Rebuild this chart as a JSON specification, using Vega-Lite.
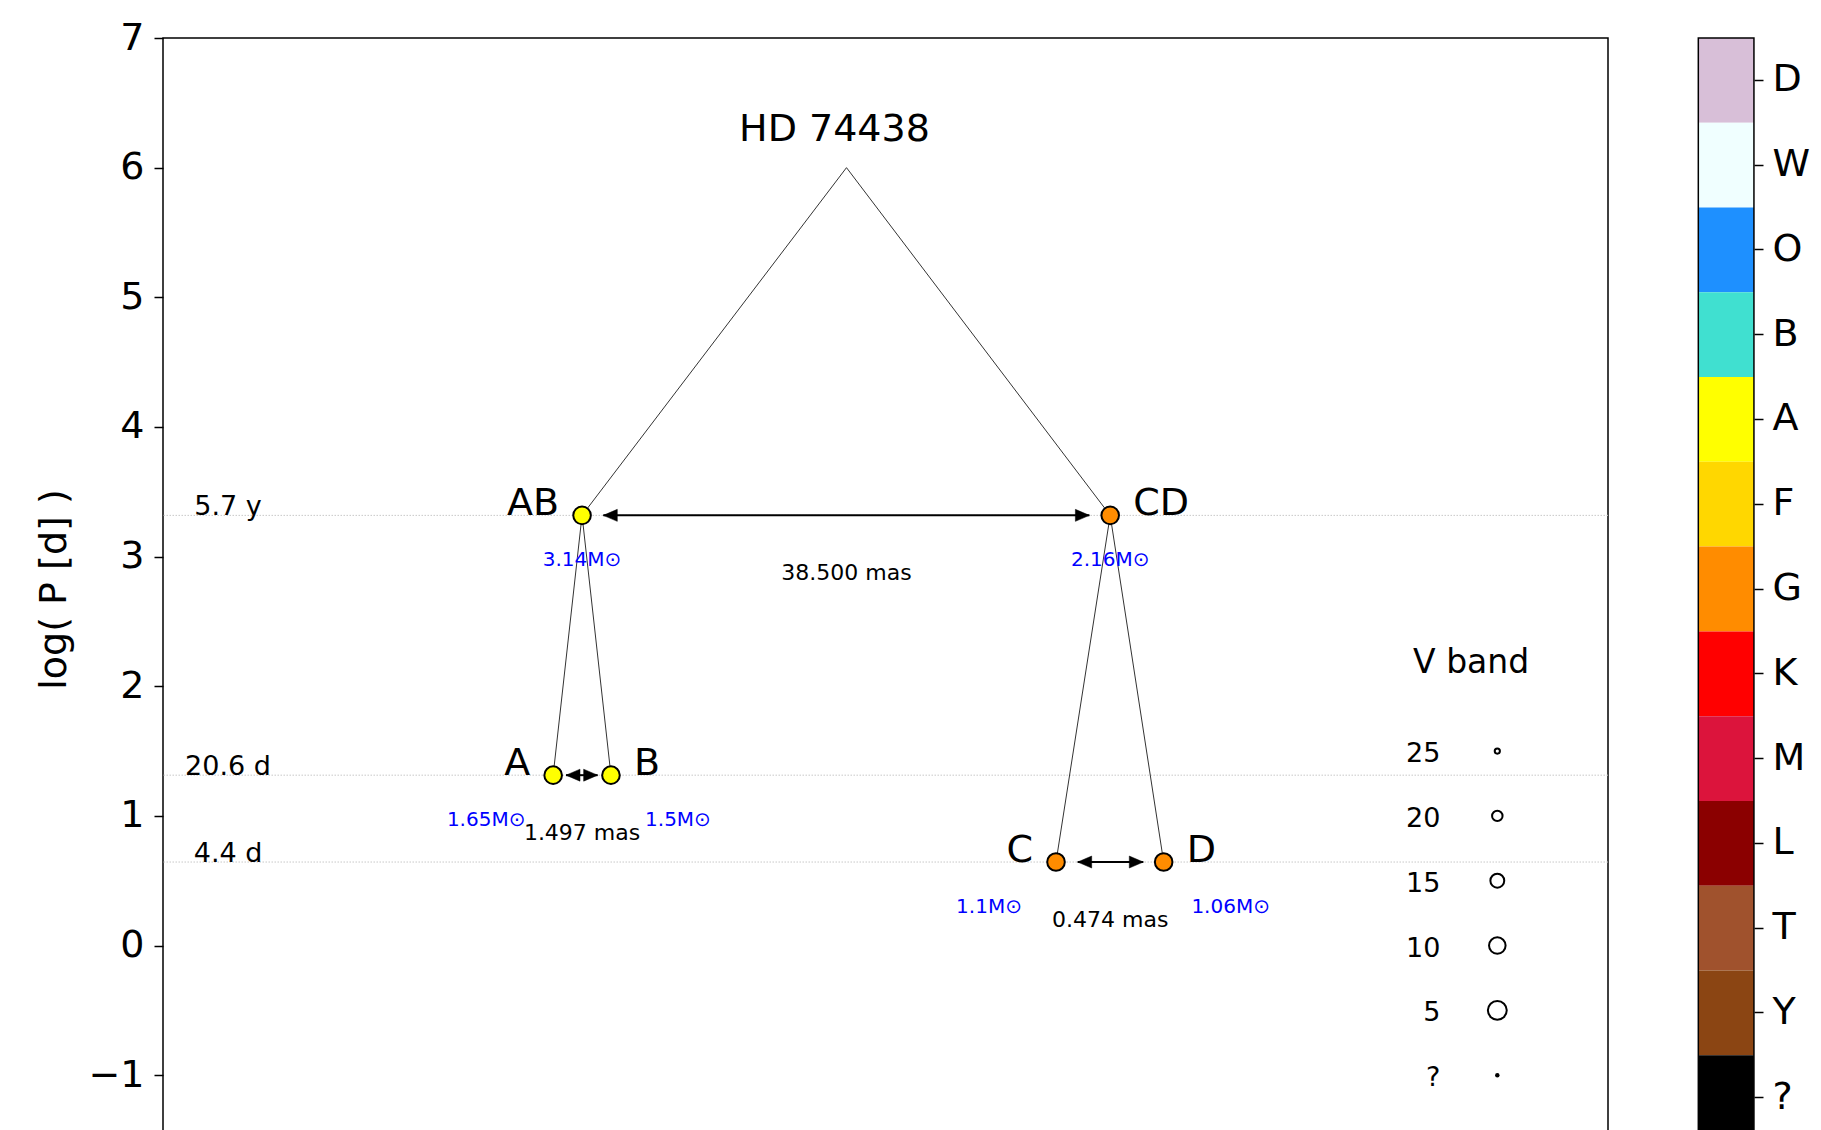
{
  "$schema": "https://vega.github.io/schema/vega-lite/v6.json",
  "autosize": {"type": "none"},
  "padding": {"left": 163, "top": 38, "right": 213, "bottom": -10},
  "width": 1445,
  "height": 1102,
  "background": "white",
  "config": {
    "font": "DejaVu Sans",
    "view": {"stroke": "black", "strokeWidth": 1.5},
    "text": {"font": "DejaVu Sans", "color": "black"}
  },
  "datasets": {
    "nodes": [
      {"id": "HD 74438", "x": 47.3, "logP": 6.0},
      {"id": "AB", "x": 29.0, "logP": 3.318, "parent": "HD 74438", "type": "A", "mass": "3.14M⊙"},
      {"id": "CD", "x": 65.55, "logP": 3.318, "parent": "HD 74438", "type": "G", "mass": "2.16M⊙"},
      {"id": "A", "x": 27.0, "logP": 1.314, "parent": "AB", "type": "A", "mass": "1.65M⊙"},
      {"id": "B", "x": 31.0, "logP": 1.314, "parent": "AB", "type": "A", "mass": "1.5M⊙"},
      {"id": "C", "x": 61.8, "logP": 0.644, "parent": "CD", "type": "G", "mass": "1.1M⊙"},
      {"id": "D", "x": 69.25, "logP": 0.644, "parent": "CD", "type": "G", "mass": "1.06M⊙"}
    ],
    "arrows": [
      {"pair": "AB-CD", "xc": 47.3, "x1": 30.47, "x2": 64.11, "logP": 3.318, "sep": "38.500 mas"},
      {"pair": "A-B", "xc": 29.0, "x1": 27.89, "x2": 30.08, "logP": 1.314, "sep": "1.497 mas"},
      {"pair": "C-D", "xc": 65.55, "x1": 63.3, "x2": 67.84, "logP": 0.644, "sep": "0.474 mas"}
    ],
    "periods": [
      {"label": "5.7 y", "logP": 3.318},
      {"label": "20.6 d", "logP": 1.314},
      {"label": "4.4 d", "logP": 0.644}
    ],
    "vband": [
      {"label": "25", "vmag": 25, "slot": 1.5},
      {"label": "20", "vmag": 20, "slot": 1.0},
      {"label": "15", "vmag": 15, "slot": 0.5},
      {"label": "10", "vmag": 10, "slot": 0.0},
      {"label": "5", "vmag": 5, "slot": -0.5},
      {"label": "?", "slot": -1.0}
    ],
    "spectral": [
      {"type": "D"}, {"type": "W"}, {"type": "O"}, {"type": "B"}, {"type": "A"}, {"type": "F"}, {"type": "G"},
      {"type": "K"}, {"type": "M"}, {"type": "L"}, {"type": "T"}, {"type": "Y"}, {"type": "?"}
    ]
  },
  "layer": [
    {
      "data": {"name": "periods"},
      "mark": {"type": "rule", "stroke": "#c8c8c8", "strokeWidth": 1, "strokeDash": [1.5, 1.5]},
      "encoding": {
        "y": {"field": "logP", "type": "quantitative", "scale": {"domain": [-1.5, 7], "nice": false, "zero": false},
          "axis": {"orient": "left", "title": "log( P [d] )", "values": [-1, 0, 1, 2, 3, 4, 5, 6, 7], "grid": false, "domain": false,
            "ticks": true, "tickSize": 9, "tickWidth": 1.5, "tickColor": "black",
            "labelFontSize": 38, "labelColor": "black", "labelPadding": 10, "labelFlush": false, "labelOverlap": false,
            "labelFont": "DejaVu Sans", "titleFont": "DejaVu Sans",
            "titleFontSize": 38, "titleFontWeight": "normal", "titleColor": "black", "titlePadding": 14}}
      }
    },
    {
      "data": {"name": "spectral"},
      "mark": {"type": "rect"},
      "encoding": {
        "y": {"field": "type", "type": "nominal", "sort": null,
          "scale": {"domain": ["D", "W", "O", "B", "A", "F", "G", "K", "M", "L", "T", "Y", "?"], "paddingInner": 0, "paddingOuter": 0},
          "axis": {"orient": "right", "offset": 146, "title": null, "domain": false, "grid": false,
            "tickSize": 9, "tickWidth": 1.5, "tickColor": "black", "labelFontSize": 38, "labelColor": "black",
            "labelPadding": 9, "labelFlush": false, "labelOverlap": false, "labelFont": "DejaVu Sans"}},
        "x": {"datum": 106.25, "type": "quantitative", "scale": {"domain": [0, 100], "nice": false, "zero": false}, "axis": null},
        "x2": {"datum": 110.1},
        "fill": {"field": "type", "type": "nominal", "legend": null,
          "scale": {"domain": ["D", "W", "O", "B", "A", "F", "G", "K", "M", "L", "T", "Y", "?"],
            "range": ["#d8bfd8", "#f0ffff", "#1e90ff", "#40e0d0", "#ffff00", "#ffd700", "#ff8c00", "#ff0000", "#dc143c", "#8b0000", "#a0522d", "#8b4513", "#000000"]}}
      }
    },
    {
      "data": {"values": [{"frame": "colorbar"}]},
      "mark": {"type": "rect", "fill": null, "fillOpacity": 0, "stroke": "black", "strokeWidth": 1.5},
      "encoding": {
        "x": {"datum": 106.25, "type": "quantitative", "scale": {"domain": [0, 100], "nice": false, "zero": false}, "axis": null},
        "x2": {"datum": 110.1}
      }
    },
    {
      "data": {"name": "nodes"},
      "transform": [
        {"filter": "isValid(datum.parent)"},
        {"lookup": "parent", "from": {"data": {"name": "nodes"}, "key": "id", "fields": ["x", "logP"]}, "as": ["px", "plogP"]}
      ],
      "mark": {"type": "rule", "stroke": "#333333", "strokeWidth": 1},
      "encoding": {
        "x": {"field": "x", "type": "quantitative", "scale": {"domain": [0, 100], "nice": false, "zero": false}, "axis": null},
        "y": {"field": "logP", "type": "quantitative", "scale": {"domain": [-1.5, 7], "nice": false, "zero": false}, "axis": null},
        "x2": {"field": "px"},
        "y2": {"field": "plogP"}
      }
    },
    {
      "data": {"name": "arrows"},
      "mark": {"type": "rule", "stroke": "black", "strokeWidth": 2},
      "encoding": {
        "x": {"field": "x1", "type": "quantitative", "scale": {"domain": [0, 100], "nice": false, "zero": false}, "axis": null},
        "x2": {"field": "x2"},
        "y": {"field": "logP", "type": "quantitative", "scale": {"domain": [-1.5, 7], "nice": false, "zero": false}, "axis": null}
      }
    },
    {
      "data": {"name": "arrows"},
      "mark": {"type": "point", "shape": "M0,0L-2,-0.857L-2,0.857Z", "filled": true, "fill": "black", "stroke": "black", "strokeWidth": 0.5, "size": 196, "opacity": 1},
      "encoding": {
        "x": {"field": "x2", "type": "quantitative", "scale": {"domain": [0, 100], "nice": false, "zero": false}, "axis": null},
        "y": {"field": "logP", "type": "quantitative", "scale": {"domain": [-1.5, 7], "nice": false, "zero": false}, "axis": null}
      }
    },
    {
      "data": {"name": "arrows"},
      "mark": {"type": "point", "shape": "M0,0L2,-0.857L2,0.857Z", "filled": true, "fill": "black", "stroke": "black", "strokeWidth": 0.5, "size": 196, "opacity": 1},
      "encoding": {
        "x": {"field": "x1", "type": "quantitative", "scale": {"domain": [0, 100], "nice": false, "zero": false}, "axis": null},
        "y": {"field": "logP", "type": "quantitative", "scale": {"domain": [-1.5, 7], "nice": false, "zero": false}, "axis": null}
      }
    },
    {
      "data": {"name": "nodes"},
      "transform": [{"filter": "isValid(datum.type)"}],
      "mark": {"type": "point", "shape": "circle", "filled": true, "size": 310, "stroke": "black", "strokeWidth": 2, "opacity": 1},
      "encoding": {
        "x": {"field": "x", "type": "quantitative", "scale": {"domain": [0, 100], "nice": false, "zero": false}, "axis": null},
        "y": {"field": "logP", "type": "quantitative", "scale": {"domain": [-1.5, 7], "nice": false, "zero": false}, "axis": null},
        "fill": {"field": "type", "type": "nominal", "legend": null,
          "scale": {"domain": ["D", "W", "O", "B", "A", "F", "G", "K", "M", "L", "T", "Y", "?"],
            "range": ["#d8bfd8", "#f0ffff", "#1e90ff", "#40e0d0", "#ffff00", "#ffd700", "#ff8c00", "#ff0000", "#dc143c", "#8b0000", "#a0522d", "#8b4513", "#000000"]}}
      }
    },
    {
      "data": {"name": "nodes"},
      "transform": [{"filter": "datum.id === 'HD 74438'"}],
      "mark": {"type": "text", "fontSize": 38, "align": "center", "baseline": "alphabetic", "dx": -12, "dy": -27},
      "encoding": {
        "x": {"field": "x", "type": "quantitative", "scale": {"domain": [0, 100], "nice": false, "zero": false}, "axis": null},
        "y": {"field": "logP", "type": "quantitative", "scale": {"domain": [-1.5, 7], "nice": false, "zero": false}, "axis": null},
        "text": {"field": "id"}
      }
    },
    {
      "data": {"name": "nodes"},
      "transform": [{"filter": {"field": "id", "oneOf": ["AB", "A", "C"]}}],
      "mark": {"type": "text", "fontSize": 38, "align": "right", "baseline": "alphabetic", "dx": -23, "dy": 0},
      "encoding": {
        "x": {"field": "x", "type": "quantitative", "scale": {"domain": [0, 100], "nice": false, "zero": false}, "axis": null},
        "y": {"field": "logP", "type": "quantitative", "scale": {"domain": [-1.5, 7], "nice": false, "zero": false}, "axis": null},
        "text": {"field": "id"}
      }
    },
    {
      "data": {"name": "nodes"},
      "transform": [{"filter": {"field": "id", "oneOf": ["CD", "B", "D"]}}],
      "mark": {"type": "text", "fontSize": 38, "align": "left", "baseline": "alphabetic", "dx": 23, "dy": 0},
      "encoding": {
        "x": {"field": "x", "type": "quantitative", "scale": {"domain": [0, 100], "nice": false, "zero": false}, "axis": null},
        "y": {"field": "logP", "type": "quantitative", "scale": {"domain": [-1.5, 7], "nice": false, "zero": false}, "axis": null},
        "text": {"field": "id"}
      }
    },
    {
      "data": {"name": "nodes"},
      "transform": [{"filter": {"field": "id", "oneOf": ["AB", "CD"]}}],
      "mark": {"type": "text", "fontSize": 20, "color": "#0000ff", "align": "center", "baseline": "middle", "dy": 45},
      "encoding": {
        "x": {"field": "x", "type": "quantitative", "scale": {"domain": [0, 100], "nice": false, "zero": false}, "axis": null},
        "y": {"field": "logP", "type": "quantitative", "scale": {"domain": [-1.5, 7], "nice": false, "zero": false}, "axis": null},
        "text": {"field": "mass"}
      }
    },
    {
      "data": {"name": "nodes"},
      "transform": [{"filter": {"field": "id", "oneOf": ["A", "C"]}}],
      "mark": {"type": "text", "fontSize": 20, "color": "#0000ff", "align": "center", "baseline": "middle", "dx": -67, "dy": 45},
      "encoding": {
        "x": {"field": "x", "type": "quantitative", "scale": {"domain": [0, 100], "nice": false, "zero": false}, "axis": null},
        "y": {"field": "logP", "type": "quantitative", "scale": {"domain": [-1.5, 7], "nice": false, "zero": false}, "axis": null},
        "text": {"field": "mass"}
      }
    },
    {
      "data": {"name": "nodes"},
      "transform": [{"filter": {"field": "id", "oneOf": ["B", "D"]}}],
      "mark": {"type": "text", "fontSize": 20, "color": "#0000ff", "align": "center", "baseline": "middle", "dx": 67, "dy": 45},
      "encoding": {
        "x": {"field": "x", "type": "quantitative", "scale": {"domain": [0, 100], "nice": false, "zero": false}, "axis": null},
        "y": {"field": "logP", "type": "quantitative", "scale": {"domain": [-1.5, 7], "nice": false, "zero": false}, "axis": null},
        "text": {"field": "mass"}
      }
    },
    {
      "data": {"name": "arrows"},
      "mark": {"type": "text", "fontSize": 22, "align": "center", "baseline": "middle", "dy": 58},
      "encoding": {
        "x": {"field": "xc", "type": "quantitative", "scale": {"domain": [0, 100], "nice": false, "zero": false}, "axis": null},
        "y": {"field": "logP", "type": "quantitative", "scale": {"domain": [-1.5, 7], "nice": false, "zero": false}, "axis": null},
        "text": {"field": "sep"}
      }
    },
    {
      "data": {"name": "periods"},
      "mark": {"type": "text", "fontSize": 27, "align": "center", "baseline": "alphabetic", "dy": 0},
      "encoding": {
        "x": {"datum": 4.5, "type": "quantitative", "scale": {"domain": [0, 100], "nice": false, "zero": false}, "axis": null},
        "y": {"field": "logP", "type": "quantitative", "scale": {"domain": [-1.5, 7], "nice": false, "zero": false}, "axis": null},
        "text": {"field": "label"}
      }
    },
    {
      "data": {"values": [{"title": "V band"}]},
      "mark": {"type": "text", "fontSize": 33, "align": "center", "baseline": "alphabetic"},
      "encoding": {
        "x": {"datum": 90.53, "type": "quantitative", "scale": {"domain": [0, 100], "nice": false, "zero": false}, "axis": null},
        "y": {"datum": 2.1, "type": "quantitative", "scale": {"domain": [-1.5, 7], "nice": false, "zero": false}, "axis": null},
        "text": {"field": "title"}
      }
    },
    {
      "data": {"name": "vband"},
      "mark": {"type": "text", "fontSize": 27, "align": "right", "baseline": "middle", "dy": 3},
      "encoding": {
        "x": {"datum": 88.4, "type": "quantitative", "scale": {"domain": [0, 100], "nice": false, "zero": false}, "axis": null},
        "y": {"field": "slot", "type": "quantitative", "scale": {"domain": [-1.5, 7], "nice": false, "zero": false}, "axis": null},
        "text": {"field": "label"}
      }
    },
    {
      "data": {"name": "vband"},
      "transform": [{"filter": "isValid(datum.vmag)"}],
      "mark": {"type": "point", "shape": "circle", "filled": false, "stroke": "black", "strokeWidth": 2, "opacity": 1},
      "encoding": {
        "x": {"datum": 92.34, "type": "quantitative", "scale": {"domain": [0, 100], "nice": false, "zero": false}, "axis": null},
        "y": {"field": "slot", "type": "quantitative", "scale": {"domain": [-1.5, 7], "nice": false, "zero": false}, "axis": null},
        "size": {"field": "vmag", "type": "quantitative", "legend": null, "scale": {"domain": [5, 25], "range": [357, 27]}}
      }
    },
    {
      "data": {"name": "vband"},
      "transform": [{"filter": "datum.label === '?'"}],
      "mark": {"type": "point", "shape": "circle", "filled": true, "fill": "black", "size": 20, "opacity": 1},
      "encoding": {
        "x": {"datum": 92.34, "type": "quantitative", "scale": {"domain": [0, 100], "nice": false, "zero": false}, "axis": null},
        "y": {"field": "slot", "type": "quantitative", "scale": {"domain": [-1.5, 7], "nice": false, "zero": false}, "axis": null}
      }
    }
  ],
  "resolve": {"scale": {"y": "independent"}, "axis": {"y": "independent"}}
}
